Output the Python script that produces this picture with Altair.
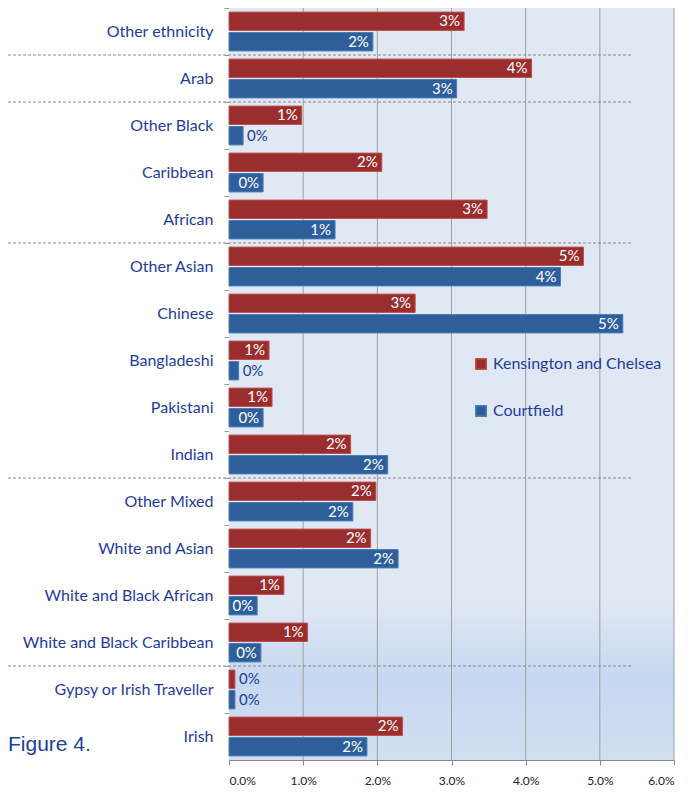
import altair as alt
import pandas as pd

categories = [
    "Other ethnicity", "Arab", "Other Black", "Caribbean", "African",
    "Other Asian", "Chinese", "Bangladeshi", "Pakistani", "Indian",
    "Other Mixed", "White and Asian", "White and Black African",
    "White and Black Caribbean", "Gypsy or Irish Traveller", "Irish",
]
series = ["Kensington and Chelsea", "Courtfield"]
kensington = [0.0317, 0.0408, 0.0098, 0.0206, 0.0348, 0.0478, 0.0251, 0.0054,
              0.0058, 0.0164, 0.0198, 0.0191, 0.0074, 0.0106, 0.0008, 0.0234]
courtfield = [0.0194, 0.0307, 0.0019, 0.0046, 0.0143, 0.0447, 0.0531, 0.0013,
              0.0046, 0.0214, 0.0167, 0.0228, 0.0038, 0.0043, 0.0008, 0.0186]
group_starts = ["Arab", "Other Black", "Other Asian", "Other Mixed", "Gypsy or Irish Traveller"]
grid_values = [0.01, 0.02, 0.03, 0.04, 0.05, 0.06]
x_ticks = [0.0, 0.01, 0.02, 0.03, 0.04, 0.05, 0.06]

W, H = 445, 752
LABEL_BLUE = "#1f3c9c"
FONT = "Lato"

rows = []
for c, k, f in zip(categories, kensington, courtfield):
    rows.append({"cat": c, "series": series[0], "v": k})
    rows.append({"cat": c, "series": series[1], "v": f})
df = pd.DataFrame(rows)

y_enc = alt.Y("cat:N", sort=categories, title=None,
              scale=alt.Scale(paddingInner=0, paddingOuter=0),
              axis=alt.Axis(bandPosition=0, tickSize=5, labelPadding=11,
                            labelFontSize=16, labelColor=LABEL_BLUE, labelFont=FONT,
                            labelLimit=400,
                            domainColor="#999999", tickColor="#999999", grid=False))
yoff = alt.YOffset("series:N", sort=series,
                   scale=alt.Scale(paddingInner=0.1, paddingOuter=0.2))
x_enc = alt.X("v:Q", title=None,
              scale=alt.Scale(domain=[0, 0.06], nice=False),
              axis=alt.Axis(values=x_ticks, format=".1%", grid=False, tickSize=5,
                            labelPadding=10, labelFontSize=12, labelFont=FONT,
                            labelColor="#222222", domainColor="#888888",
                            tickColor="#888888"))

bg = alt.Chart(pd.DataFrame({"a": [0]})).mark_rect(
    color=alt.LinearGradient(
        gradient="linear", x1=0, x2=0, y1=0, y2=1,
        stops=[alt.GradientStop(offset=0, color="#e0e8f4"),
               alt.GradientStop(offset=0.79, color="#e0e8f4"),
               alt.GradientStop(offset=0.89, color="#c6d8f0"),
               alt.GradientStop(offset=1, color="#d2dff2")])
).encode(x=alt.value(0), x2=alt.value(W), y=alt.value(0), y2=alt.value(H))

grid = alt.Chart(pd.DataFrame({"g": grid_values})).mark_rule(
    color="#a0a0a0", strokeWidth=1
).encode(x="g:Q", y=alt.value(0), y2=alt.value(H))

seps = alt.Chart(pd.DataFrame({"cat": group_starts})).mark_rule(
    color="#8a8a8a", strokeWidth=1, strokeDash=[3, 2]
).encode(y=alt.Y("cat:N", sort=categories, bandPosition=0),
         x=alt.value(-221), x2=alt.value(403))

bars = alt.Chart(df).mark_bar(strokeWidth=1).encode(
    x=x_enc, y=y_enc, yOffset=yoff,
    color=alt.Color("series:N", sort=series,
                    scale=alt.Scale(domain=series, range=["#9a2e2e", "#2e5f9b"]),
                    legend=alt.Legend(title=None, orient="none", legendX=244, legendY=348,
                                      symbolType="square", symbolSize=110,
                                      labelFontSize=16, labelFont=FONT,
                                      labelColor=LABEL_BLUE, rowPadding=29,
                                      labelOffset=4, labelLimit=400)),
    stroke=alt.Stroke("series:N", sort=series,
                      scale=alt.Scale(domain=series, range=["#c0504d", "#4a7ebb"]),
                      legend=None),
)

base_text = alt.Chart(df).transform_calculate(
    inside="datum.v >= 0.003"
)
text_in = base_text.transform_filter("datum.inside").mark_text(
    align="right", baseline="middle", dx=-4, color="white", fontSize=15,
    font=FONT, fontWeight="normal"
).encode(x="v:Q", y=alt.Y("cat:N", sort=categories), yOffset=yoff,
         text=alt.Text("v:Q", format=".0%"))
text_out = base_text.transform_filter("!datum.inside").mark_text(
    align="left", baseline="middle", dx=4, color=LABEL_BLUE, fontSize=15,
    font=FONT, fontWeight="normal"
).encode(x="v:Q", y=alt.Y("cat:N", sort=categories), yOffset=yoff,
         text=alt.Text("v:Q", format=".0%"))

fig = alt.Chart(pd.DataFrame({"t": ["Figure 4."]})).mark_text(
    align="left", baseline="middle", font="Liberation Sans", fontSize=21,
    color="#2040a0"
).encode(text="t:N", x=alt.value(-221), y=alt.value(737))

chart = alt.layer(bg, grid, seps, bars, text_in, text_out, fig).properties(
    width=W, height=H,
    autosize=alt.AutoSizeParams(type="none"),
    padding={"left": 221, "top": 0, "right": 7, "bottom": 26},
).configure_view(stroke=None)

chart.save("out.html", embed_options={"renderer": "svg", "actions": False})
